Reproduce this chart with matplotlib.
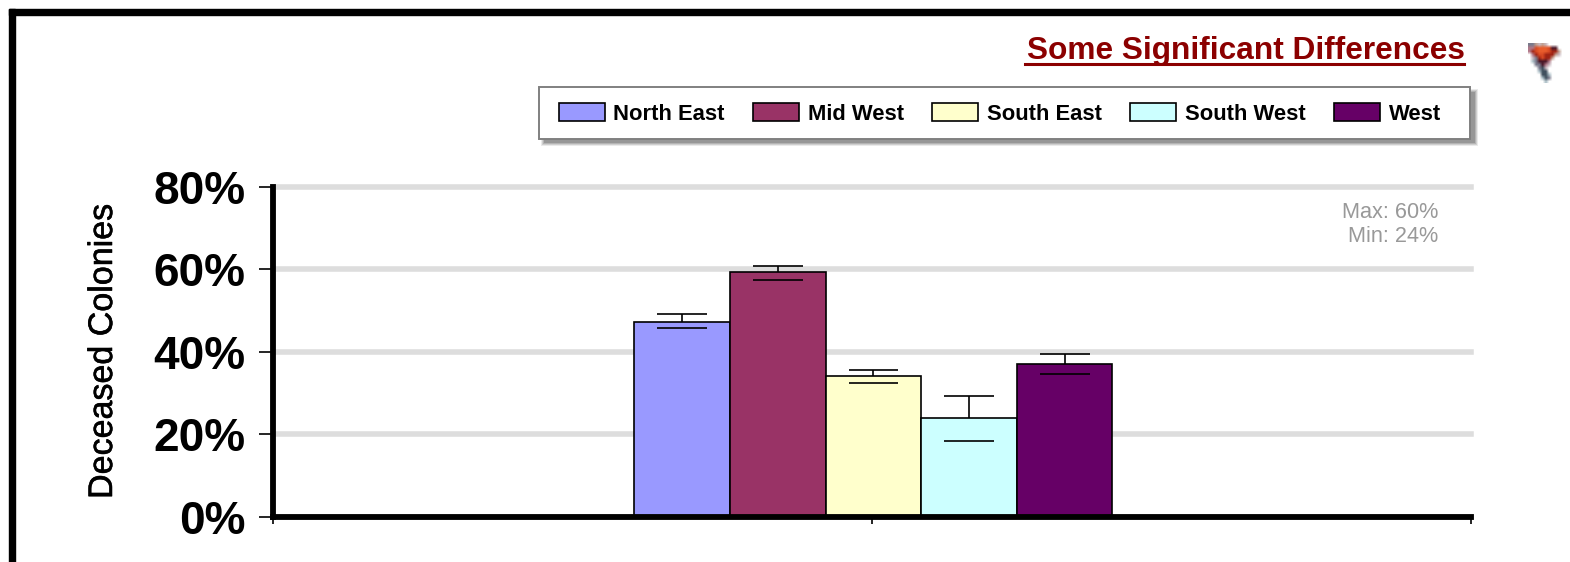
import matplotlib
matplotlib.use('Agg')
import matplotlib.pyplot as plt
import matplotlib.patheffects as pe
from matplotlib.colors import to_rgb
from matplotlib.lines import Line2D
from matplotlib.patches import Rectangle

W, H = 1570, 562

regions = ['North East', 'Mid West', 'South East', 'South West', 'West']
values = [47.3, 59.4, 34.1, 23.8, 37.0]
err_high = [49.1, 60.9, 35.5, 29.2, 39.4]
err_low = [45.7, 57.4, 32.5, 18.4, 34.5]
colors = ['#9999ff', '#993366', '#ffffcc', '#ccffff', '#660066']
y_ticks = [0, 20, 40, 60, 80]
y_labels = ['0%', '20%', '40%', '60%', '80%']

# flag icon, one letter per blurry pixel
flag_rows = ['ggtsts.....',
             'pprooorkk..',
             'pdrooorddt.',
             '.pdrrdddts.',
             '.sgdrddt...',
             '.lgkkkp....',
             '..ggkps....',
             '...gbs.....',
             '...lbb.....',
             '....bbl....',
             '....lbg....',
             '.....l.....']
flag_colors = {'.': 'white', 'g': '#7a7a8c', 't': '#c0a090', 's': '#c8b8c0', 'p': '#b07888',
               'r': '#d84a24', 'o': '#e85c2c', 'd': '#a02414', 'k': '#4a1828', 'b': '#40505e',
               'l': '#a8bcc4'}

plt.rcParams['font.family'] = ['Liberation Sans', 'DejaVu Sans']


def px(x0, y0, x1, y1):
    return [x0 / W, 1 - y1 / H, (x1 - x0) / W, (y1 - y0) / H]


def box(x0, y0, x1, y1, **kw):
    fig.add_artist(Rectangle((x0 / W, 1 - y1 / H), (x1 - x0) / W, (y1 - y0) / H,
                             transform=fig.transFigure, **kw))


fig = plt.figure(figsize=(W / 100, H / 100), dpi=100)
ax = fig.add_axes(px(273, 187, 1471, 516.5))
ax.set_xlim(0, 1)
ax.set_ylim(0, 80)
ax.patch.set_alpha(0)

ax.set_yticks(y_ticks)
ax.set_yticklabels(y_labels, fontsize=33, fontweight='bold')
ax.set_xticks([0, 0.5, 1])
ax.set_xticklabels([])
ax.tick_params(axis='y', length=10, width=1.2, pad=10)
ax.tick_params(axis='x', length=5, width=1.2)

for t in y_ticks[1:]:
    ax.axhline(t, color='#dddddd', lw=4, zorder=1, clip_on=False)

for s in ['top', 'right']:
    ax.spines[s].set_visible(False)
ax.spines['left'].set_linewidth(4.2)
ax.spines['bottom'].set_linewidth(4.2)

bar_w = 0.0798
cap_w = 0.0417
start = 0.50125 - bar_w * len(regions) / 2
for i, name in enumerate(regions):
    x = start + bar_w * (i + 0.5)
    ax.bar(x, values[i], bar_w, color=colors[i], edgecolor='black', lw=1.2, label=name, zorder=2)
    ax.vlines(x, values[i], err_high[i], color='black', lw=1.2, zorder=3)
    ax.hlines([err_high[i], err_low[i]], x - cap_w / 2, x + cap_w / 2, color='black', lw=1.2, zorder=3)

ax.set_ylabel('Deceased Colonies', fontsize=24.5, path_effects=[pe.withStroke(linewidth=0.4, foreground='black')])
ax.yaxis.set_label_coords((119 - 273) / 1198, (516 - 351) / 329)

fig.text(1438 / W, 1 - 212 / H, 'Max: 60%', color='#999999', fontsize=15.6, ha='right', va='center')
fig.text(1438 / W, 1 - 237 / H, 'Min: 24%', color='#999999', fontsize=15.6, ha='right', va='center')

fig.text(1464.5 / W, 1 - 51 / H, 'Some Significant Differences', color='#8b0000', fontsize=22.8,
         fontweight='bold', ha='right', va='center')
fig.add_artist(Line2D([1025 / W, 1464 / W], [1 - 64 / H, 1 - 64 / H], color='#8b0000', lw=2.2))

# legend box with a soft shadow
for grow, alpha in [(3, 0.12), (2, 0.18), (1, 0.22), (0, 0.3)]:
    box(544 - grow, 92 - grow, 1475 + grow, 143 + grow, facecolor='#555555', edgecolor='none', alpha=alpha)
box(539, 87, 1470, 139, facecolor='white', edgecolor='#808080', lw=1.4)
leg = fig.legend(*ax.get_legend_handles_labels(), ncol=5, loc='center left',
                 bbox_to_anchor=(558.5 / W, 1 - 114 / H), frameon=False,
                 prop={'size': 15.8, 'weight': 'bold'},
                 handlelength=2.1, handleheight=0.85, handletextpad=0.4, columnspacing=1.28,
                 borderpad=0, borderaxespad=0)

# page border
box(9, 9, W, 15, color='black')
box(9, 9, 15, H, color='black')

# little flag icon
flag_ax = fig.add_axes(px(1528, 43, 1564, 83))
flag_ax.imshow([[to_rgb(flag_colors[c]) for c in row] for row in flag_rows],
               interpolation='bilinear', aspect='auto')
flag_ax.axis('off')

fig.savefig('out.png', dpi=100)
